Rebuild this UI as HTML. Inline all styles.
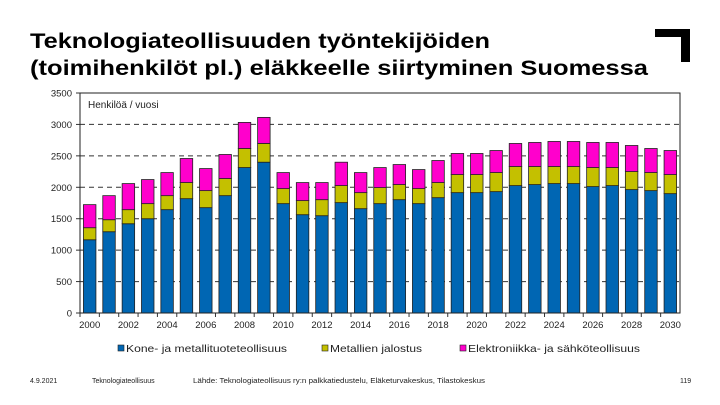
<!DOCTYPE html>
<html><head><meta charset="utf-8"><style>
body{margin:0;background:#fff;}
svg{display:block;font-family:"Liberation Sans","DejaVu Sans",sans-serif;}
</style></head><body>
<svg id="chart" width="720" height="405" viewBox="0 0 720 405">
<text x="30" y="48" font-size="21" font-weight="bold" textLength="460" lengthAdjust="spacingAndGlyphs">Teknologiateollisuuden työntekijöiden</text>
<text x="30" y="75" font-size="21" font-weight="bold" textLength="618" lengthAdjust="spacingAndGlyphs">(toimihenkilöt pl.) eläkkeelle siirtyminen Suomessa</text>
<path d="M655 29 H690 V62 H681 V37 H655 Z" fill="#000"/>
<g id="grid"></g>
<g id="bars"></g>
<g id="axes"></g>
<text x="88" y="108" font-size="10" fill="#222">Henkilöä / vuosi</text>
<g>
<g><rect x="118" y="345" width="6" height="6" fill="#0066b3" stroke="#222" stroke-width="0.6"/><text x="126" y="352" font-size="10.5" fill="#222" textLength="161" lengthAdjust="spacingAndGlyphs">Kone- ja metallituoteteollisuus</text></g>
<g><rect x="322" y="345" width="6" height="6" fill="#c4c000" stroke="#222" stroke-width="0.6"/><text x="330" y="352" font-size="10.5" fill="#222" textLength="92" lengthAdjust="spacingAndGlyphs">Metallien jalostus</text></g>
<g><rect x="460" y="345" width="6" height="6" fill="#ff00cc" stroke="#222" stroke-width="0.6"/><text x="468" y="352" font-size="10.5" fill="#222" textLength="172" lengthAdjust="spacingAndGlyphs">Elektroniikka- ja sähköteollisuus</text></g>
</g>
<g font-size="7" fill="#222">
<text x="30" y="383">4.9.2021</text>
<text x="92" y="383">Teknologiateollisuus</text>
<text x="193" y="383" textLength="292" lengthAdjust="spacingAndGlyphs">Lähde: Teknologiateollisuus ry:n palkkatiedustelu, Eläketurvakeskus, Tilastokeskus</text>
<text x="680" y="383">119</text>
</g>
</svg>
<script>
const years=[];for(let y=2000;y<=2030;y++)years.push(y);
const kone=[1165,1293,1420,1500,1644,1819,1676,1867,2314,2399,1740,1564,1548,1756,1660,1740,1803,1740,1835,1915,1915,1931,2027,2043,2059,2059,2011,2027,1963,1947,1899];
const metallien=[192,191,224,240,223,256,271,272,303,298,239,224,255,271,255,255,240,239,240,287,287,303,303,287,271,271,303,287,287,287,303];
const elektroniikka=[367,383,415,383,367,383,351,383,415,415,255,287,272,372,319,319,319,303,351,336,336,351,367,383,399,399,399,399,415,383,383];
const yTicks=[0,500,1000,1500,2000,2500,3000,3500];
const xLabels=[2000,2002,2004,2006,2008,2010,2012,2014,2016,2018,2020,2022,2024,2026,2028,2030];
const NS='http://www.w3.org/2000/svg';
const L=80,R=680,T=93,B=313,YMAX=3500;
const band=(R-L)/years.length, bw=12.5;
const yS=v=>B-(v/YMAX)*(B-T);
const xS=i=>L+band*i+band/2;
function mk(tag,attrs,parent){const e=document.createElementNS(NS,tag);for(const k in attrs)e.setAttribute(k,attrs[k]);parent.appendChild(e);return e;}
const grid=document.getElementById('grid'),bars=document.getElementById('bars'),axes=document.getElementById('axes');
yTicks.forEach(v=>{
 if(v>0&&v<YMAX){const g=mk('line',{x1:L,x2:R,y1:yS(v),y2:yS(v),stroke:'#333','stroke-dasharray':'5,4','stroke-width':1},grid);
 
 }
 const tk=mk('line',{x1:L-4,x2:L,y1:yS(v),y2:yS(v),stroke:'#333'},axes);
 
 
 const t=mk('text',{x:L-8,y:yS(v)+3.5,'font-size':9.5,'text-anchor':'end',fill:'#222'},axes);t.textContent=v;
 
 
});
const series=[[kone,'#0066b3','kone'],[metallien,'#c4c000','metallien'],[elektroniikka,'#ff00cc','elektroniikka']];
years.forEach((yr,i)=>{
 let base=0;
 series.forEach(([arr,col,nm])=>{
  const v=arr[i];
  const r=mk('rect',{x:xS(i)-bw/2,y:yS(base+v),width:bw,height:yS(base)-yS(base+v),fill:col,stroke:'#222','stroke-width':0.8},bars);
  
  
  base+=v;
 });
 const tk=mk('line',{x1:L+band*i,x2:L+band*i,y1:B,y2:B+4,stroke:'#333'},axes);
 
 
});
const frame=mk('rect',{x:L,y:T,width:R-L,height:B-T,fill:'none',stroke:'#222','stroke-width':1},axes);


xLabels.forEach(yr=>{
 const i=years.indexOf(yr);
 const t=mk('text',{x:xS(i),y:B+15,'font-size':9.5,'text-anchor':'middle',fill:'#222'},axes);t.textContent=yr;
 
 
});
</script>
</body></html>
